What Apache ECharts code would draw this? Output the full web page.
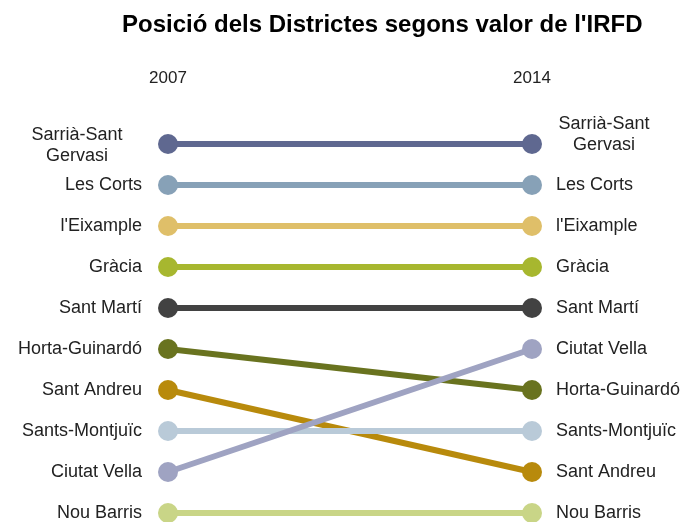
<!DOCTYPE html>
<html>
<head>
<meta charset="utf-8">
<script src="https://cdn.jsdelivr.net/npm/echarts@6/dist/echarts.min.js"></script>
<style>
  html, body { margin: 0; padding: 0; background: #fff; }
  #chart { width: 685px; height: 522px; }
</style>
</head>
<body>
<div id="chart"></div>
<script>
const years = ['2007', '2014'];
const districts = [
  'Sarrià-Sant Gervasi', 'Les Corts', "l'Eixample", 'Gràcia', 'Sant Martí',
  'Horta-Guinardó', 'Sant Andreu', 'Sants-Montjuïc', 'Ciutat Vella', 'Nou Barris'
];
const rank2007 = [1, 2, 3, 4, 5, 6, 7, 8, 9, 10];
const rank2014 = [1, 2, 3, 4, 5, 7, 9, 8, 6, 10];
const palette = [
  '#5f6890', '#87a1b7', '#dfbf69', '#a7b72f', '#424242',
  '#69731f', '#b88a0c', '#b9cad8', '#9fa3c2', '#c9d587'
];

const font = 'Liberation Sans, Arial, sans-serif';

function labelFor(name, side) {
  // the long name wraps onto two centred lines
  if (name === 'Sarrià-Sant Gervasi') {
    return {
      show: true,
      position: side,
      align: 'center',
      distance: side === 'left' ? 81 : 62,
      offset: side === 'left' ? [0, 2] : [0, -9],
      lineHeight: 21,
      formatter: 'Sarrià-Sant\nGervasi'
    };
  }
  return {
    show: true,
    position: side,
    distance: side === 'left' ? 16 : 14,
    formatter: name
  };
}

const series = districts.map((d, i) => ({
  type: 'line',
  name: d,
  clip: false,
  symbol: 'circle',
  symbolSize: 20,
  lineStyle: { width: 6, color: palette[i] },
  itemStyle: { color: palette[i] },
  label: { color: '#222', fontSize: 18, fontFamily: font },
  emphasis: { disabled: true },
  data: [
    { value: rank2007[i], label: labelFor(d, 'left') },
    { value: rank2014[i], label: labelFor(d, 'right') }
  ]
}));

const chart = echarts.init(document.getElementById('chart'));
chart.setOption({
  animation: false,
  backgroundColor: '#fff',
  title: {
    text: "Posició dels Districtes segons valor de l'IRFD",
    left: 117,
    top: 8,
    textStyle: { fontFamily: font, fontSize: 24, fontWeight: 'bold', color: '#000' }
  },
  grid: { left: 168, right: 153, top: 144, bottom: 9, outerBoundsMode: 'none' },
  xAxis: {
    type: 'category',
    data: years,
    position: 'top',
    boundaryGap: false,
    axisLine: { show: false },
    axisTick: { show: false },
    splitLine: { show: false },
    axisLabel: { margin: 57, color: '#222', fontSize: 17, fontFamily: font }
  },
  yAxis: {
    type: 'value',
    inverse: true,
    min: 1,
    max: 10,
    show: false
  },
  series: series
});
</script>
</body>
</html>
